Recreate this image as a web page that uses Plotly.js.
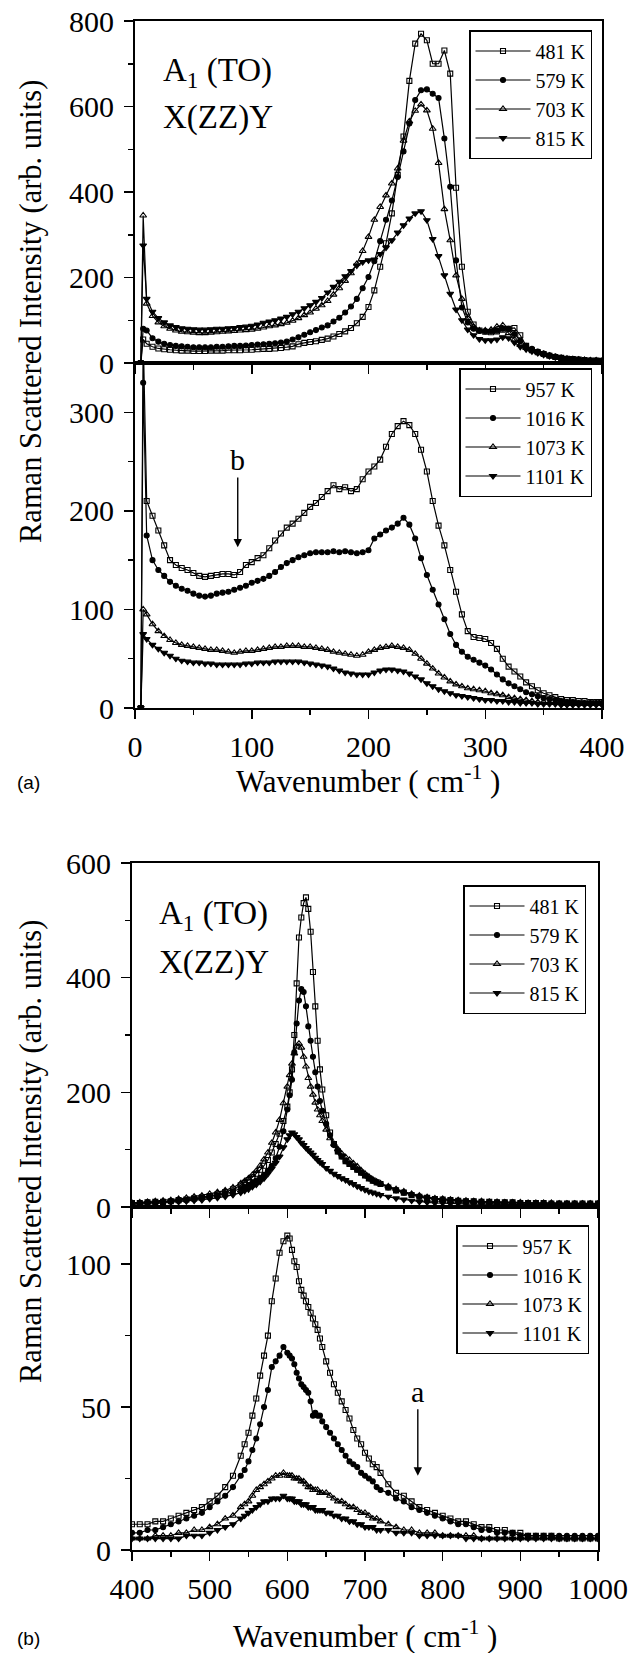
<!DOCTYPE html>
<html>
<head>
<meta charset="utf-8">
<script src="https://cdn.plot.ly/plotly-3.0.1.min.js"></script>
<style>html,body{margin:0;padding:0;background:#fff;}</style>
</head>
<body>
<div id="chart" style="width:641px;height:1653px;"></div>
<script>
// ---------- data: panel (a), 0-400 cm-1 ----------
const wavenumberA = [5,7,10,
  15,20,25,30,35,40,45,50,55,60,65,70,75,80,85,90,95,100,
  105,110,115,120,125,130,135,140,145,150,155,160,165,170,175,180,185,190,195,200,
  205,210,215,220,225,230,235,240,245,250,255,260,265,270,275,280,285,290,295,300,
  305,310,315,320,325,330,335,340,345,350,355,360,365,370,375,380,385,390,395,400];

const a481 = [0,55,45,
  38,34,32,31,30,29,29,28,28,28,29,29,29,30,30,30,31,31,
  32,33,33,34,35,37,39,44,47,49,51,54,57,62,68,74,82,93,108,131,
  170,225,280,350,440,530,660,747,770,755,700,700,731,677,410,225,120,90,76,73,
  72,74,78,80,82,65,40,30,25,21,17,14,12,10,9,8,7,6,6,5];
const a579 = [0,80,76,
  58,50,45,42,40,39,38,37,37,37,37,38,38,39,40,40,41,42,
  43,44,45,46,48,50,55,60,66,72,77,83,88,97,106,118,132,150,175,201,
  238,285,335,380,435,495,560,615,638,640,630,620,525,412,240,130,95,80,75,74,
  74,76,80,80,68,52,40,33,27,22,18,15,12,10,9,8,7,6,6,5];
const a703 = [0,345,139,
  110,95,86,80,76,73,72,71,70,70,71,72,73,74,75,76,77,78,
  80,83,86,88,91,94,99,105,112,118,127,135,145,160,175,192,210,232,262,295,
  335,365,392,420,455,520,565,590,605,591,548,468,360,287,205,150,105,85,76,76,
  78,85,88,70,55,42,35,30,25,21,17,14,12,10,9,8,7,6,6,5];
const a815 = [0,275,150,
  120,105,95,88,84,81,80,79,78,78,79,80,80,81,82,84,85,87,
  90,94,97,100,104,108,114,120,128,135,143,152,165,178,190,203,215,228,236,240,
  242,255,270,287,305,322,338,350,355,334,290,250,205,162,125,100,78,65,56,53,
  53,55,60,58,48,38,32,27,23,19,16,13,11,9,8,7,6,5,5,4];

const a957 = [0,380,210,
  195,180,165,150,145,142,140,137,134,133,134,135,136,136,135,138,145,148,
  152,155,162,170,177,183,187,192,198,204,208,214,220,226,222,224,220,222,232,240,
  245,252,265,278,286,291,287,278,262,240,210,185,165,140,118,95,78,72,71,70,
  66,60,50,42,37,32,26,22,18,15,13,11,9,8,8,7,7,6,6,6];
const a1016 = [0,330,175,
  150,140,134,128,124,121,119,116,114,113,114,116,117,118,120,122,124,127,
  129,131,134,138,143,147,150,153,155,157,158,158,158,159,158,159,158,157,158,160,
  172,176,180,183,187,193,186,172,152,135,120,105,90,75,64,57,52,49,46,43,
  39,34,29,25,22,19,16,14,12,10,9,8,7,6,6,5,5,5,5,5];
const a1073 = [0,100,95,
  85,78,73,69,66,64,63,62,61,60,59,59,58,57,56,57,58,58,
  59,60,61,62,62,63,63,63,62,62,61,60,59,57,56,55,54,53,54,57,
  59,61,62,63,62,61,59,55,50,45,40,35,31,27,24,22,20,19,18,17,
  15,14,13,11,10,9,8,7,6,6,5,5,5,4,4,4,4,4,4,4];
const a1101 = [0,75,70,
  64,60,56,53,50,48,47,46,46,45,45,44,44,44,44,44,45,45,
  46,46,46,47,47,47,47,47,46,45,44,43,42,40,38,36,35,34,34,34,
  36,38,39,39,38,37,35,32,29,25,22,19,17,15,13,12,11,10,9,8,
  8,7,7,6,6,5,5,5,4,4,4,4,3,3,3,3,3,3,3,3];

// ---------- data: panel (b), 400-1000 cm-1 ----------
const wavenumberB = [400,410,420,430,440,450,460,470,480,490,500,510,520,530,540,
  545,550,555,560,565,570,575,580,585,590,595,600,
  603,606,609,612,615,618,621,624,627,630,633,636,639,642,645,
  650,655,660,665,670,675,680,685,690,695,700,705,710,715,720,
  730,740,750,760,770,780,790,800,810,820,830,840,850,860,870,880,890,900,910,920,930,940,950,960,970,980,990,1000];

const b481 = [7,7,8,9,9,10,12,13,15,17,19,22,26,31,38,
  42,47,52,58,65,72,82,95,110,128,150,175,
  200,240,300,390,470,505,530,540,520,480,410,350,290,240,205,
  160,130,110,97,88,80,75,70,65,60,55,50,46,43,40,
  34,29,25,21,18,16,14,13,12,11,10,10,9,9,8,8,8,7,7,7,7,6,6,6,6,6,6,6];
const b579 = [7,7,8,8,9,10,11,12,14,16,18,20,23,27,32,
  35,38,42,46,51,56,63,72,85,105,132,170,
  195,222,270,320,360,380,375,350,315,290,262,235,210,185,168,
  145,125,108,97,88,80,75,70,65,60,55,50,46,43,40,
  34,29,25,21,18,16,14,13,12,11,10,10,9,9,8,8,8,7,7,7,7,6,6,6,6,6,6,6];
const b703 = [7,8,9,10,11,12,14,16,18,20,23,26,29,34,41,
  45,50,56,63,72,83,95,112,130,152,181,210,
  230,250,268,280,285,278,262,245,225,210,196,182,170,160,150,
  135,120,110,101,93,87,82,76,71,64,58,53,48,44,41,
  36,31,27,23,20,17,15,14,13,12,11,10,10,9,9,8,8,8,7,7,7,7,6,6,6,6,6,6];
const b815 = [5,5,6,6,7,8,9,10,11,12,14,16,18,21,25,
  28,31,35,39,44,50,58,67,77,88,104,118,
  125,130,127,122,118,112,108,103,99,95,91,86,82,78,75,
  68,63,58,54,50,47,43,40,36,33,30,27,25,23,21,
  18,15,13,11,9,8,7,7,6,6,5,5,5,5,5,4,4,4,4,4,4,4,4,4,4,4,4,4];

const b957 = [9,9,9,10,10,11,12,13,14,15,17,19,22,26,33,
  37,41,47,53,61,68,75,87,95,104,108,110,
  109,105,101,99,94,91,89,87,85,83,81,79,77,74,71,
  66,62,58,55,52,49,46,42,39,37,34,32,30,29,27,
  23,20,19,17,15,14,13,12,11,10,10,9,8,8,7,7,6,6,5,5,5,5,4,4,4,4,4,4];
const b1016 = [6,6,7,7,8,9,10,11,12,13,15,17,19,22,26,
  28,31,35,39,44,50,56,64,66,68,71,69,
  68,67,65,62,60,58,57,56,55,52,47,48,47,47,45,
  43,41,39,37,35,33,31,30,29,27,26,25,24,22,21,
  20,18,17,15,14,13,12,11,10,9,9,8,7,7,6,6,6,5,5,5,5,5,5,5,5,5,5,5];
const b1073 = [4,4,4,5,5,5,6,6,7,7,8,9,11,12,15,
  16,17,19,21,22,23,24,25,26,26,27,26,
  26,26,25,25,25,24,24,23,22,22,21,21,21,20,20,
  20,19,18,17,17,16,15,15,14,13,13,12,11,11,10,
  9,8,7,7,6,6,6,5,5,5,5,5,4,4,4,4,4,4,4,4,4,4,4,4,4,4,4,4];
const b1101 = [4,4,4,4,4,4,4,5,5,5,6,7,8,9,11,
  12,13,14,15,16,17,17,18,18,18,19,18,
  18,18,17,17,17,16,16,16,15,15,15,14,14,14,14,
  13,13,12,12,11,11,10,10,9,9,8,8,8,7,7,
  7,6,6,6,5,5,5,5,5,5,4,4,4,4,4,4,4,4,4,4,4,4,4,4,4,4,4,4];

const namesLow  = ['481 K','579 K','703 K','815 K'];
const namesHigh = ['957 K','1016 K','1073 K','1101 K'];
const symbols = ['square-open','circle','triangle-up-open','triangle-down'];

[a481,a579,a703,a815,a957,a1016,a1073,a1101].forEach((s,i)=>{ if(s.length!==wavenumberA.length) throw new Error('A series '+i+' length '+s.length); });
[b481,b579,b703,b815,b957,b1016,b1073,b1101].forEach((s,i)=>{ if(s.length!==wavenumberB.length) throw new Error('B series '+i+' length '+s.length); });

// ---------- layout helpers ----------
const W = 641, H = 1653;
const fx = v => v / W;
const fy = v => 1 - v / H;
const SERIF = 'Liberation Serif, Times New Roman, serif';
const SANS = 'Liberation Sans, Arial, sans-serif';

function mk(x, y, name, sym, xa, ya, leg) {
  return {
    x: x, y: y, name: name, type: 'scatter', mode: 'lines+markers',
    xaxis: xa, yaxis: ya, legend: leg,
    line: {color: '#000', width: 1.2},
    marker: {symbol: sym, size: sym.indexOf('triangle') === 0 ? 6 : 5, color: '#000', line: {color: '#000', width: 1.1}}
  };
}

const traces = [];
[a481,a579,a703,a815].forEach((s,i)=>traces.push(mk(wavenumberA, s, namesLow[i], symbols[i], 'x', 'y', 'legend')));
[a957,a1016,a1073,a1101].forEach((s,i)=>traces.push(mk(wavenumberA, s, namesHigh[i], symbols[i], 'x2', 'y2', 'legend2')));
[b481,b579,b703,b815].forEach((s,i)=>traces.push(mk(wavenumberB, s, namesLow[i], symbols[i], 'x3', 'y3', 'legend3')));
[b957,b1016,b1073,b1101].forEach((s,i)=>traces.push(mk(wavenumberB, s, namesHigh[i], symbols[i], 'x4', 'y4', 'legend4')));

function axis(dom, rng, dtick, minorDtick, anchor, labels, extra) {
  return Object.assign({
    domain: dom, range: rng, anchor: anchor, autorange: false,
    tick0: 0, dtick: dtick, ticks: 'outside', ticklen: 9, tickwidth: 1.5, tickcolor: '#000',
    minor: {dtick: minorDtick, ticks: 'outside', ticklen: 5, tickwidth: 1.5, tickcolor: '#000'},
    showticklabels: labels, tickfont: {family: SERIF, size: 30, color: '#000'},
    showline: true, linewidth: 2, linecolor: '#000', mirror: true,
    showgrid: false, zeroline: false, fixedrange: true
  }, extra || {});
}

const xDomA = [fx(135), fx(602)];
const xDomB = [fx(132), fx(598)];

function legendAt(x, y) {
  return {x: fx(x), y: fy(y), xanchor: 'left', yanchor: 'top', xref: 'paper', yref: 'paper',
    bgcolor: '#fff', bordercolor: '#000', borderwidth: 1.5,
    font: {family: SERIF, size: 20, color: '#000'}, itemwidth: 55, tracegroupgap: 0};
}

const layout = {
  width: W, height: H, margin: {l: 0, r: 0, t: 0, b: 0},
  paper_bgcolor: '#fff', plot_bgcolor: '#fff', showlegend: true,
  xaxis:  axis(xDomA, [0, 400], 100, 50, 'y', false),
  yaxis:  axis([fy(363), fy(21)], [0, 800], 200, 100, 'x', true, {ticklabelstandoff: 4}),
  xaxis2: axis(xDomA, [0, 400], 100, 50, 'y2', true, {ticklabelstandoff: 2}),
  yaxis2: axis([fy(708), fy(363)], [0, 350], 100, 50, 'x2', true, {ticklabelstandoff: 4}),
  xaxis3: axis(xDomB, [400, 1000], 100, 50, 'y3', false, {tick0: 400}),
  yaxis3: axis([fy(1207), fy(863)], [0, 600], 200, 100, 'x3', true, {ticklabelstandoff: 4}),
  xaxis4: axis(xDomB, [400, 1000], 100, 50, 'y4', true, {tick0: 400, ticklabelstandoff: 2}),
  yaxis4: axis([fy(1550), fy(1207)], [0, 120], 50, 25, 'x4', true, {ticklabelstandoff: 4}),
  legend:  legendAt(469, 30),
  legend2: legendAt(459, 368),
  legend3: legendAt(463, 885),
  legend4: legendAt(456, 1225),
  annotations: [
    // y titles
    {xref: 'paper', yref: 'paper', x: fx(31), y: fy(312), text: 'Raman Scattered Intensity (arb. units)', textangle: -90,
     showarrow: false, xanchor: 'center', yanchor: 'middle', font: {family: SERIF, size: 30.5, color: '#000'}},
    {xref: 'paper', yref: 'paper', x: fx(31), y: fy(1152), text: 'Raman Scattered Intensity (arb. units)', textangle: -90,
     showarrow: false, xanchor: 'center', yanchor: 'middle', font: {family: SERIF, size: 30.5, color: '#000'}},
    // x titles
    {xref: 'paper', yref: 'paper', x: fx(368), y: fy(779), text: 'Wavenumber ( cm<sup>-1</sup> )',
     showarrow: false, xanchor: 'center', yanchor: 'middle', font: {family: SERIF, size: 31, color: '#000'}},
    {xref: 'paper', yref: 'paper', x: fx(365), y: fy(1634), text: 'Wavenumber ( cm<sup>-1</sup> )',
     showarrow: false, xanchor: 'center', yanchor: 'middle', font: {family: SERIF, size: 31, color: '#000'}},
    // panel letters
    {xref: 'paper', yref: 'paper', x: fx(28), y: fy(782), text: '(a)', showarrow: false,
     xanchor: 'center', yanchor: 'middle', font: {family: SANS, size: 19, color: '#000'}},
    {xref: 'paper', yref: 'paper', x: fx(28), y: fy(1638), text: '(b)', showarrow: false,
     xanchor: 'center', yanchor: 'middle', font: {family: SANS, size: 19, color: '#000'}},
    // mode labels
    {xref: 'paper', yref: 'paper', x: fx(161), y: fy(72), text: 'A<sub>1</sub> (TO)', showarrow: false,
     xanchor: 'left', yanchor: 'middle', font: {family: SERIF, size: 33, color: '#000'}},
    {xref: 'paper', yref: 'paper', x: fx(161), y: fy(117), text: 'X(ZZ)Y', showarrow: false,
     xanchor: 'left', yanchor: 'middle', font: {family: SERIF, size: 33, color: '#000'}},
    {xref: 'paper', yref: 'paper', x: fx(157), y: fy(915), text: 'A<sub>1</sub> (TO)', showarrow: false,
     xanchor: 'left', yanchor: 'middle', font: {family: SERIF, size: 33, color: '#000'}},
    {xref: 'paper', yref: 'paper', x: fx(157), y: fy(962), text: 'X(ZZ)Y', showarrow: false,
     xanchor: 'left', yanchor: 'middle', font: {family: SERIF, size: 33, color: '#000'}},
    // arrow b (panel a, lower): text at tail, arrow tip at the curve
    {xref: 'x2', yref: 'y2', axref: 'x2', ayref: 'y2', x: 88, y: 163, ax: 88, ay: 252, text: 'b',
     showarrow: true, arrowhead: 2, arrowsize: 1.2, arrowwidth: 1.4, arrowcolor: '#000',
     font: {family: SERIF, size: 30, color: '#000'}},
    // arrow a (panel b, lower)
    {xref: 'x4', yref: 'y4', axref: 'x4', ayref: 'y4', x: 768, y: 26, ax: 768, ay: 55.5, text: 'a',
     showarrow: true, arrowhead: 2, arrowsize: 1.2, arrowwidth: 1.4, arrowcolor: '#000',
     font: {family: SERIF, size: 30, color: '#000'}}
  ]
};

Plotly.newPlot('chart', traces, layout, {staticPlot: true, displayModeBar: false});
</script>
</body>
</html>
